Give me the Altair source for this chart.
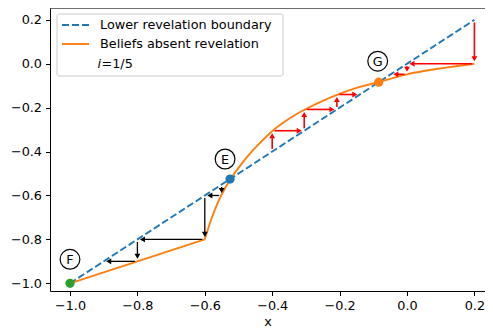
import math
import altair as alt
import pandas as pd

# ---------------- data ----------------
boundary_x = [-1.0, 0.2]
boundary_y = [-1.0, 0.2]

belief_x = [-1.0, -0.8, -0.6, -0.58, -0.56, -0.54, -0.52, -0.5, -0.47, -0.44, -0.4,
            -0.36, -0.33, -0.3, -0.25, -0.2, -0.15, -0.085, -0.04, 0.0, 0.05, 0.1, 0.15, 0.2]
belief_y = [-1.0, -0.9, -0.8, -0.705, -0.628, -0.567, -0.517, -0.474, -0.416, -0.366, -0.307,
            -0.261, -0.231, -0.206, -0.169, -0.137, -0.11, -0.084, -0.064, -0.048, -0.033, -0.021, -0.01, 0.0]

# cobweb arrows (start -> end)
black_x0 = [-0.55, -0.55, -0.6, -0.6, -0.8, -0.8]
black_y0 = [-0.55, -0.6, -0.6, -0.8, -0.8, -0.9]
black_x1 = [-0.55, -0.6, -0.6, -0.8, -0.8, -0.9]
black_y1 = [-0.6, -0.6, -0.8, -0.8, -0.9, -0.9]

red_x0 = [-0.4, -0.4, -0.305, -0.305, -0.208, -0.208, 0.2, 0.2, 0.0, 0.0]
red_y0 = [-0.4, -0.305, -0.305, -0.208, -0.208, -0.14, 0.2, 0.0, 0.0, -0.048]
red_x1 = [-0.4, -0.305, -0.305, -0.208, -0.208, -0.14, 0.2, 0.0, 0.0, -0.048]
red_y1 = [-0.305, -0.305, -0.208, -0.208, -0.14, -0.14, 0.0, 0.0, -0.048, -0.048]

point_names = ["F", "E", "G"]
point_x = [-1.0, -0.525, -0.084]
point_y = [-1.0, -0.525, -0.084]
point_colors = ["#2ca02c", "#1f77b4", "#ff7f0e"]
label_dx = [0, -5, -1]      # label offsets in pixels
label_dy = [-24, -20, -21]

legend_labels = ["Lower revelation boundary", "Beliefs absent revelation"]
legend_note_var = "i"
legend_note_rest = "=1/5"

x_ticks = [-1.0, -0.8, -0.6, -0.4, -0.2, 0.0, 0.2]
y_ticks = [-1.0, -0.8, -0.6, -0.4, -0.2, 0.0, 0.2]

# ---------------- layout ----------------
W, H = 435, 283
PXU = 337.0
X0 = -1.0 - 20 / PXU
X1 = X0 + W / PXU
Y0, Y1 = -1.035, 0.254
PYU = H / (Y1 - Y0)
FONT = "DejaVu Sans"
FS = 12.8
LW = 1.9

xs = alt.Scale(domain=[X0, X1], nice=False, zero=False)
ys = alt.Scale(domain=[Y0, Y1], nice=False, zero=False)

axis_common = dict(grid=False, tickSize=4.5, labelPadding=4, domainColor="black",
                   tickColor="black", labelColor="black", labelFont=FONT, labelFontSize=FS,
                   domainWidth=1, tickWidth=1, labelFlush=False, labelOverlap=False,
                   format=".1f")
x_axis = alt.Axis(values=x_ticks, title="x", titleFont=FONT, titleFontSize=FS,
                  titleFontWeight="normal", titleColor="black", titleBaseline="alphabetic",
                  titleY=34, **axis_common)
y_axis = alt.Axis(values=y_ticks, title=None, **axis_common)

# ---------------- arrows ----------------
HEAD_SIZE = 34
HEAD_H = math.sqrt(3) * (math.sqrt(HEAD_SIZE) / 2) / 2  # half-height of triangle
SHRINK = 2.5

rows_shaft, rows_head = [], []
for color, X0s, Y0s, X1s, Y1s in [("black", black_x0, black_y0, black_x1, black_y1),
                                   ("red", red_x0, red_y0, red_x1, red_y1)]:
    for a, b, c, d in zip(X0s, Y0s, X1s, Y1s):
        dxp = (c - a) * PXU
        dyp = -(d - b) * PYU
        L = math.hypot(dxp, dyp)
        ux, uy = dxp / L, dyp / L
        sx = a + SHRINK * ux / PXU
        sy = b - SHRINK * uy / PYU
        tipx = c - SHRINK * ux / PXU
        tipy = d + SHRINK * uy / PYU
        hx = tipx - HEAD_H * ux / PXU
        hy = tipy + HEAD_H * uy / PYU
        if abs(ux) > abs(uy):
            shape = "triangle-right" if ux > 0 else "triangle-left"
        else:
            shape = "triangle-down" if uy > 0 else "triangle-up"
        rows_shaft.append(dict(x=sx, y=sy, x2=hx, y2=hy, color=color,
                               w=1.6 if color == "red" else 1.3))
        rows_head.append(dict(x=hx, y=hy, shape=shape, color=color))

shaft_df = pd.DataFrame(rows_shaft)
head_df = pd.DataFrame(rows_head)

# ---------------- layers ----------------
bdf = pd.DataFrame({"x": boundary_x, "y": boundary_y})
cdf = pd.DataFrame({"x": belief_x, "y": belief_y})

boundary = alt.Chart(bdf).mark_line(color="#1f77b4", strokeWidth=LW, strokeDash=[7, 3]).encode(
    x=alt.X("x:Q", scale=xs, axis=x_axis),
    y=alt.Y("y:Q", scale=ys, axis=y_axis),
)

belief_lin = alt.Chart(cdf).transform_filter("datum.x <= -0.6").mark_line(
    color="#ff7f0e", strokeWidth=LW).encode(
    x=alt.X("x:Q", scale=xs), y=alt.Y("y:Q", scale=ys), order="x:Q")
belief_curve = alt.Chart(cdf).transform_filter("datum.x >= -0.6").mark_line(
    color="#ff7f0e", strokeWidth=LW, interpolate="monotone").encode(
    x=alt.X("x:Q", scale=xs), y=alt.Y("y:Q", scale=ys), order="x:Q")

shafts = alt.Chart(shaft_df).mark_rule().encode(
    x=alt.X("x:Q", scale=xs), y=alt.Y("y:Q", scale=ys),
    x2="x2:Q", y2="y2:Q",
    color=alt.Color("color:N", scale=None),
    strokeWidth=alt.StrokeWidth("w:Q", scale=None),
)
heads = alt.Chart(head_df).mark_point(filled=True, opacity=1, size=HEAD_SIZE, strokeWidth=0).encode(
    x=alt.X("x:Q", scale=xs), y=alt.Y("y:Q", scale=ys),
    shape=alt.Shape("shape:N", scale=None),
    color=alt.Color("color:N", scale=None),
)

pdf = pd.DataFrame({"name": point_names, "x": point_x, "y": point_y, "c": point_colors,
                    "dx": label_dx, "dy": label_dy})
pdf["lx"] = pdf["x"] + pdf["dx"] / PXU
pdf["ly"] = pdf["y"] - pdf["dy"] / PYU

dots = alt.Chart(pdf).mark_circle(size=85, opacity=1).encode(
    x=alt.X("x:Q", scale=xs), y=alt.Y("y:Q", scale=ys),
    color=alt.Color("c:N", scale=None),
)
label_circles = alt.Chart(pdf).mark_point(shape="circle", size=390, filled=False, fill="white",
                                          fillOpacity=1, stroke="black", strokeWidth=1.2,
                                          opacity=1).encode(
    x=alt.X("lx:Q", scale=xs), y=alt.Y("ly:Q", scale=ys))
label_text = alt.Chart(pdf).mark_text(font=FONT, fontSize=FS, color="black", align="center",
                                      baseline="middle", dy=0.5).encode(
    x=alt.X("lx:Q", scale=xs), y=alt.Y("ly:Q", scale=ys), text="name:N")

# top spine
top_spine = alt.Chart(pd.DataFrame({"a": [0]})).mark_rule(color="black", strokeWidth=1).encode(
    x=alt.value(0), x2=alt.value(W), y=alt.value(0))

# manual legend (matplotlib style)
leg_df = pd.DataFrame({"a": [0]})
leg_box = alt.Chart(leg_df).mark_rect(fill="white", fillOpacity=0.8, stroke="#cccccc",
                                      strokeWidth=1, cornerRadius=2).encode(
    x=alt.value(7), x2=alt.value(233), y=alt.value(6), y2=alt.value(68))
leg_dash = alt.Chart(leg_df).mark_rule(color="#1f77b4", strokeWidth=LW, strokeDash=[7, 3]).encode(
    x=alt.value(12), x2=alt.value(39), y=alt.value(17))
leg_solid = alt.Chart(leg_df).mark_rule(color="#ff7f0e", strokeWidth=LW).encode(
    x=alt.value(12), x2=alt.value(39), y=alt.value(36))
leg_t1 = alt.Chart(leg_df).mark_text(font=FONT, fontSize=FS, align="left", baseline="middle",
                                     text=legend_labels[0], color="black").encode(
    x=alt.value(50), y=alt.value(17))
leg_t2 = alt.Chart(leg_df).mark_text(font=FONT, fontSize=FS, align="left", baseline="middle",
                                     text=legend_labels[1], color="black").encode(
    x=alt.value(50), y=alt.value(36))
leg_t3a = alt.Chart(leg_df).mark_text(font=FONT, fontSize=FS, fontStyle="italic", align="left",
                                      baseline="middle", text=legend_note_var, color="black").encode(
    x=alt.value(47.5), y=alt.value(56))
leg_t3b = alt.Chart(leg_df).mark_text(font=FONT, fontSize=FS, align="left", baseline="middle",
                                      text=legend_note_rest, color="black").encode(
    x=alt.value(51.5), y=alt.value(56))

chart = alt.layer(
    boundary, belief_lin, belief_curve, shafts, heads, dots, label_circles, label_text,
    top_spine, leg_box, leg_dash, leg_solid, leg_t1, leg_t2, leg_t3a, leg_t3b
).properties(
    width=W, height=H,
    autosize=alt.AutoSizeParams(type="none"),
    padding={"left": 42, "top": 0, "right": 0, "bottom": 320 - H},
).configure_view(stroke=None).configure(background="white")

chart.save("out.html", embed_options={"renderer": "svg", "actions": False})
